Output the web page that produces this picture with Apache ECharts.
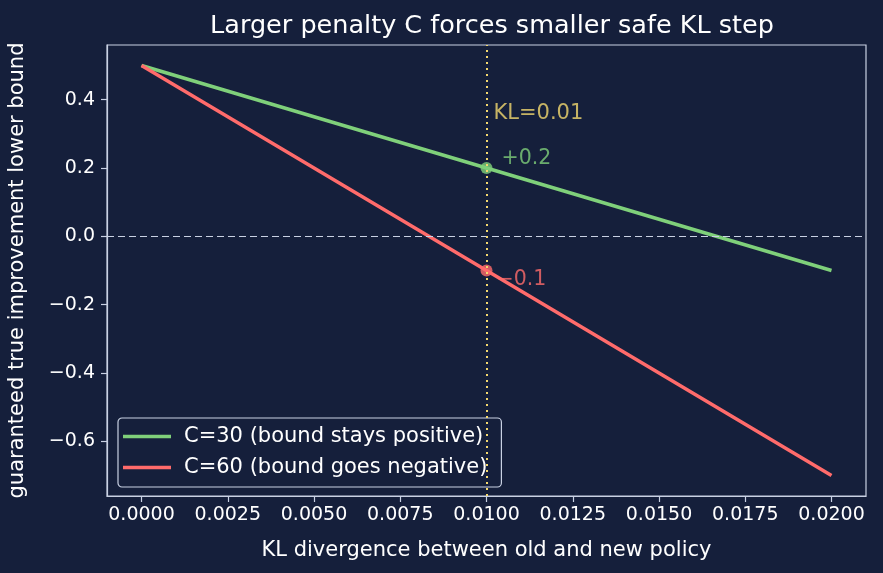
<!DOCTYPE html>
<html>
<head>
<meta charset="utf-8">
<script src="https://cdn.jsdelivr.net/npm/echarts@6/dist/echarts.min.js"></script>
<style>
	html, body { margin: 0; padding: 0; background: #151f3b; }
	#chart { width: 883px; height: 573px; }
</style>
</head>
<body>
<div id="chart"></div>
<script>
	// values
	var klSteps = [0, 0.01, 0.02];
	var boundC30 = [0.5, 0.2, -0.1];
	var boundC60 = [0.5, -0.1, -0.7];
	var markKL = 0.01;
	var markC30 = 0.2;
	var markC60 = -0.1;
	var xTicks = [0, 0.0025, 0.005, 0.0075, 0.01, 0.0125, 0.015, 0.0175, 0.02];
	var yTicks = [-0.6, -0.4, -0.2, 0, 0.2, 0.4];

	var bg = '#151f3b';
	var fg = '#c9d1e3';
	var green = '#7fd07a';
	var red = '#ff6b6b';
	var yellow = '#f3d86f';
	var font = 'DejaVu Sans';

	function pairs(xs, ys) {
		var out = [];
		for (var i = 0; i < xs.length; i++) out.push([xs[i], ys[i]]);
		return out;
	}

	var chart = echarts.init(document.getElementById('chart'));
	var option = {
		backgroundColor: bg,
		animation: false,
		textStyle: { fontFamily: font },
		title: {
			text: 'Larger penalty C forces smaller safe KL step',
			left: 487, top: 8, textAlign: 'center',
			textStyle: { color: '#ffffff', fontSize: 25.5, fontWeight: 'normal', fontFamily: font }
		},
		grid: { left: 107, right: 17, top: 45, bottom: 77, outerBoundsMode: 'none', containLabel: false,
			show: true, borderColor: fg, borderWidth: 1.2, backgroundColor: bg },
		legend: {
			left: 118, top: 418, orient: 'vertical',
			backgroundColor: bg, borderColor: fg, borderWidth: 1.2, borderRadius: 4,
			padding: [8, 14, 9, 5], itemGap: 10,
			icon: 'rect', itemWidth: 48, itemHeight: 3.5,
			textStyle: { color: '#ffffff', fontSize: 21, fontFamily: font, padding: [0, 0, 0, 8] },
			data: ['C=30 (bound stays positive)', 'C=60 (bound goes negative)']
		},
		xAxis: {
			type: 'value', min: -0.001, max: 0.021,
			name: 'KL divergence between old and new policy',
			nameLocation: 'middle', nameGap: 44,
			nameTextStyle: { color: '#ffffff', fontSize: 21, fontFamily: font },
			axisLine: { show: true, onZero: false, lineStyle: { color: fg, width: 1.2 } },
			splitLine: { show: false },
			axisTick: { show: true, length: 6, lineStyle: { color: fg, width: 1.2 }, customValues: xTicks },
			axisLabel: { color: '#ffffff', fontSize: 19, margin: 10, customValues: xTicks,
				formatter: function (v) { return v.toFixed(4); } }
		},
		yAxis: {
			type: 'value', min: -0.76, max: 0.56,
			name: 'guaranteed true improvement lower bound',
			nameLocation: 'middle', nameGap: 79,
			nameTextStyle: { color: '#ffffff', fontSize: 21, fontFamily: font },
			axisLine: { show: true, onZero: false, lineStyle: { color: fg, width: 1.2 } },
			splitLine: { show: false },
			axisTick: { show: true, length: 6, lineStyle: { color: fg, width: 1.2 }, customValues: yTicks },
			axisLabel: { color: '#ffffff', fontSize: 19, margin: 12, customValues: yTicks,
				formatter: function (v) { return v.toFixed(1).replace('-', '\u2212'); } }
		},
		series: [
			{
				name: 'C=30 (bound stays positive)', type: 'line', data: pairs(klSteps, boundC30),
				showSymbol: false, symbol: 'none', color: green, lineStyle: { color: green, width: 3.5 }, z: 3,
				markLine: {
					silent: true, symbol: 'none', label: { show: false },
					data: [
						{ yAxis: 0, lineStyle: { color: fg, type: [7, 4], width: 1.2 } },
						{ xAxis: markKL, lineStyle: { color: yellow, type: [2, 4], width: 2 } }
					]
				}
			},
			{
				name: 'C=60 (bound goes negative)', type: 'line', data: pairs(klSteps, boundC60),
				showSymbol: false, symbol: 'none', color: red, lineStyle: { color: red, width: 3.5 }, z: 3
			},
			{
				type: 'scatter', data: [[markKL, markC30]], symbolSize: 12, itemStyle: { color: green }, z: 4,
				label: { show: true, position: 'right', distance: 9, offset: [0, -9], formatter: '+0.2', color: green, fontSize: 20.5, fontFamily: font }
			},
			{
				type: 'scatter', data: [[markKL, markC60]], symbolSize: 12, itemStyle: { color: red }, z: 4,
				label: { show: true, position: 'right', distance: 4, offset: [0, 9], formatter: '\u22120.1', color: red, fontSize: 20.5, fontFamily: font }
			},
			{
				type: 'scatter', data: [[markKL, 0.36]], symbolSize: 0, z: 4,
				label: { show: true, position: 'right', distance: 7, formatter: 'KL=0.01', color: yellow, fontSize: 21, fontFamily: font }
			}
		]
	};
	chart.setOption(option);
</script>
</body>
</html>
